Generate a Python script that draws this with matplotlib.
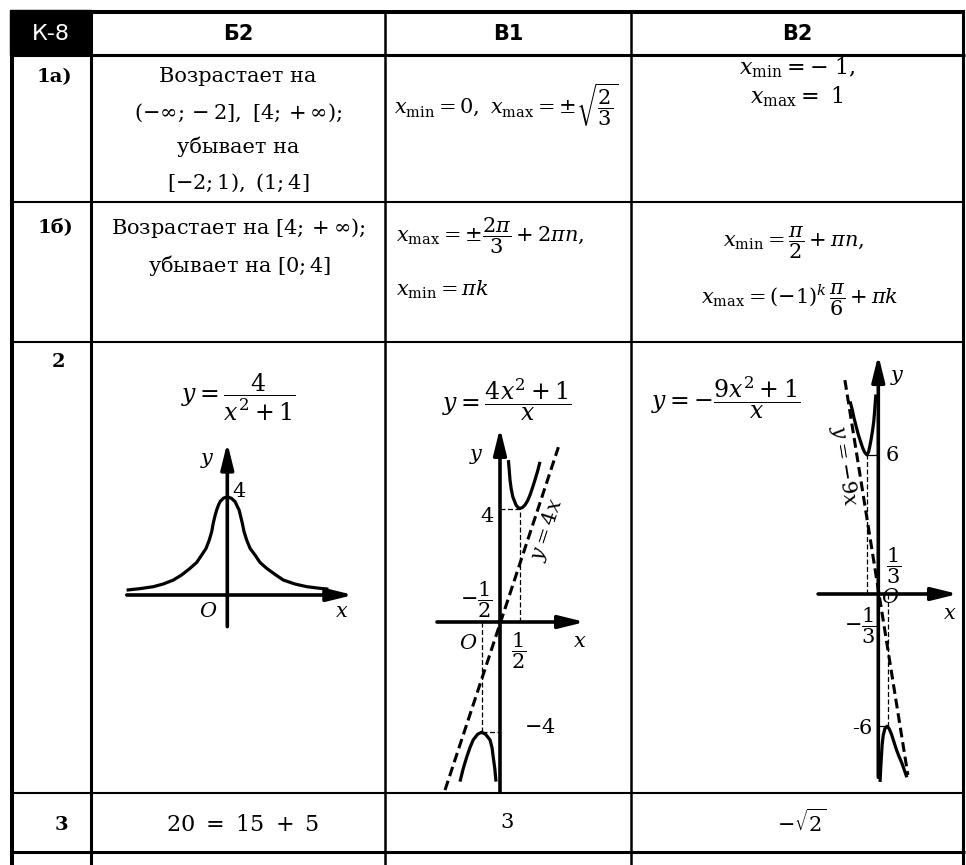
import matplotlib.pyplot as plt
from matplotlib.patches import Rectangle

W, H = 966, 865

plt.rcParams["font.family"] = "DejaVu Serif"
plt.rcParams["mathtext.fontset"] = "dejavuserif"

# ── table layout (pixels) ─────────────────────────────────────
COL_EDGES = [12, 91, 385, 631, 963]
ROW_EDGES = [12, 55, 202, 342, 793, 852]

HEADERS = ["К-8", "Б2", "В1", "В2"]
ROW_LABELS = ["1а)", "1б)", "2", "3"]

# ── graph 1 : y = 4/(x^2+1) ───────────────────────────────────
G1_X = [-5.30, -4.59, -3.89, -3.37, -2.84, -2.40, -1.96, -1.61, -1.35, -1.12, -0.95,
        -0.82, -0.74, -0.65, -0.56, -0.47, -0.38, -0.21, 0.0,
        0.21, 0.41, 0.50, 0.62, 0.70, 0.79, 0.88, 1.02, 1.20, 1.46, 1.72, 2.07,
        2.55, 2.95, 3.55, 4.18, 4.90, 5.32]
G1_Y = [0.20, 0.26, 0.34, 0.45, 0.61, 0.82, 1.09, 1.33, 1.63, 1.90, 2.24,
        2.59, 2.93, 3.22, 3.47, 3.66, 3.81, 3.95, 4.01,
        3.95, 3.81, 3.66, 3.47, 3.22, 2.93, 2.59, 2.24, 1.90, 1.63, 1.33, 1.09,
        0.82, 0.61, 0.45, 0.34, 0.27, 0.24]

# ── graph 2 : y = (4x^2+1)/x ──────────────────────────────────
G2_UP_X = [0.21, 0.23, 0.25, 0.28, 0.32, 0.40, 0.45, 0.50, 0.56, 0.625, 0.69,
           0.75, 0.81, 0.875, 0.94, 1.0]
G2_UP_Y = [5.74, 5.40, 5.04, 4.72, 4.44, 4.15, 4.06, 4.03, 4.06, 4.15, 4.30,
           4.50, 4.75, 5.04, 5.35, 5.68]
G2_LO_X = [-1.0, -0.92, -0.83, -0.75, -0.67, -0.56, -0.46, -0.36, -0.25, -0.2,
           -0.17, -0.13, -0.1]
G2_LO_Y = [-5.66, -5.20, -4.78, -4.45, -4.18, -3.98, -3.91, -3.98, -4.18, -4.45,
           -4.78, -5.20, -5.66]
G2_ASYM_X = [-1.375, 1.46]
G2_ASYM_Y = [-5.96, 6.2]

# ── graph 3 : y = -(9x^2+1)/x ─────────────────────────────────
G3_UP_X = [-0.81, -0.75, -0.70, -0.64, -0.58, -0.51, -0.45, -0.39, -0.33, -0.28,
           -0.24, -0.20, -0.16, -0.13, -0.11, -0.09, -0.07]
G3_UP_Y = [8.3, 7.95, 7.6, 7.25, 6.9, 6.57, 6.3, 6.1, 6.0, 6.12, 6.4, 6.72,
           7.1, 7.45, 7.8, 8.2, 8.6]
G3_LO_X = [0.05, 0.07, 0.09, 0.11, 0.14, 0.19, 0.25, 0.31, 0.38, 0.45, 0.53,
           0.60, 0.68, 0.75, 0.82]
G3_LO_Y = [-8.1, -7.5, -7.0, -6.5, -6.1, -5.8, -5.7, -5.8, -6.05, -6.38, -6.75,
           -7.02, -7.3, -7.6, -7.9]
G3_ASYM_X = [-0.96, 0.85]
G3_ASYM_Y = [9.22, -7.8]


def graph_axes(fig, box, origin, scale):
    """Inset axes whose data units land on the pixel box of the picture."""
    bx0, by0, bx1, by1 = box
    ox, oy = origin
    sx, sy = scale
    ax = fig.add_axes([bx0 / W, 1 - by1 / H, (bx1 - bx0) / W, (by1 - by0) / H])
    ax.set_xlim((bx0 - ox) / sx, (bx1 - ox) / sx)
    ax.set_ylim((oy - by1) / sy, (oy - by0) / sy)
    ax.axis("off")
    return ax


def arrows(ax, xr, yr):
    style = dict(arrowstyle="-|>,head_length=1.3,head_width=0.32",
                 lw=2.6, color="black", shrinkA=0, shrinkB=0, mutation_scale=12)
    ax.annotate("", xy=(xr[1], 0), xytext=(xr[0], 0), arrowprops=style)
    ax.annotate("", xy=(0, yr[1]), xytext=(0, yr[0]), arrowprops=style)


CURVE = dict(color="black", lw=2.3, solid_capstyle="butt", solid_joinstyle="round")
ASYM = dict(color="black", lw=2.2, linestyle=(0, (3.2, 1.6)))
GUIDE = dict(color="black", lw=0.9, linestyle=(0, (4, 2)))
LAB = dict(fontsize=15, ha="center", va="center")

fig = plt.figure(figsize=(W / 100, H / 100), dpi=100)
ax = fig.add_axes([0, 0, 1, 1])
ax.set_xlim(0, W)
ax.set_ylim(H, 0)
ax.axis("off")

# ── table grid ────────────────────────────────────────────────
ax.add_patch(Rectangle((10, 10), 81, 45, color="black"))
ax.hlines(ROW_EDGES[0], 10, 965, color="black", lw=2.9)
ax.hlines(ROW_EDGES[1], 10, 965, color="black", lw=2.2)
for y in ROW_EDGES[2:-1]:
    ax.hlines(y, 10, 965, color="black", lw=1.5)
ax.hlines(ROW_EDGES[-1], 10, 965, color="black", lw=2.2)
for x, lw in zip(COL_EDGES, [2.9, 2.2, 1.8, 1.8, 2.2]):
    ax.vlines(x, 10, H, color="black", lw=lw)

# ── headers ───────────────────────────────────────────────────
hy = (ROW_EDGES[0] + ROW_EDGES[1]) / 2 + 1
ax.text(51, hy, HEADERS[0], color="white", fontsize=16, family="DejaVu Sans",
        ha="center", va="center")
for cx, s in zip([238, 508, 797], HEADERS[1:]):
    ax.text(cx, hy, s, fontsize=15, family="DejaVu Sans", weight="bold",
            ha="center", va="center")

for (lx, ly), s in zip([(54, 77), (55, 227), (58, 362), (61, 825)], ROW_LABELS):
    ax.text(lx, ly, s, fontsize=14, weight="bold", ha="center", va="center")

FS = 15
# row 1a
for y, s in zip([76, 113, 147, 183],
                ["Возрастает на", r"$(-\infty;-2],\ [4;+\infty);$",
                 "убывает на", r"$[-2;1),\ (1;4]$"]):
    ax.text(238, y, s, fontsize=FS, ha="center", va="center")
ax.text(506, 104, r"$x_{\min}=0,\ x_{\max}=\pm\sqrt{\dfrac{2}{3}}$",
        fontsize=FS, ha="center", va="center")
ax.text(797, 68, r"$x_{\min}=-\ 1,$", fontsize=FS + 1, ha="center", va="center")
ax.text(797, 97, r"$x_{\max}=\ 1$", fontsize=FS + 1, ha="center", va="center")

# row 1b
ax.text(238, 228, r"Возрастает на $[4;+\infty)$;", fontsize=FS, ha="center", va="center")
ax.text(240, 265, r"убывает на $[0;4]$", fontsize=FS, ha="center", va="center")
ax.text(396, 236, r"$x_{\max}=\pm\dfrac{2\pi}{3}+2\pi n,$", fontsize=FS,
        ha="left", va="center")
ax.text(396, 290, r"$x_{\min}=\pi k$", fontsize=FS, ha="left", va="center")
ax.text(794, 243, r"$x_{\min}=\dfrac{\pi}{2}+\pi n,$", fontsize=FS,
        ha="center", va="center")
ax.text(800, 300, r"$x_{\max}=(-1)^k\,\dfrac{\pi}{6}+\pi k$", fontsize=FS,
        ha="center", va="center")

# row 2 formulas
ax.text(238, 397, r"$y=\dfrac{4}{x^2+1}$", fontsize=17, ha="center", va="center")
ax.text(507, 400, r"$y=\dfrac{4x^2+1}{x}$", fontsize=17, ha="center", va="center")
ax.text(726, 398, r"$y=-\dfrac{9x^2+1}{x}$", fontsize=17, ha="center", va="center")

# row 3
ax.text(243, 825, r"$20\ =\ 15\ +\ 5$", fontsize=16, ha="center", va="center")
ax.text(507, 822, r"$3$", fontsize=FS, ha="center", va="center")
ax.text(802, 822, r"$-\sqrt{2}$", fontsize=FS, ha="center", va="center")

# ── graph 1 ───────────────────────────────────────────────────
g1 = graph_axes(fig, (110, 420, 370, 640), (227.3, 595), (19.0, 24.5))
arrows(g1, (-5.29, 6.63), (-1.29, 6.22))
g1.plot(G1_X, G1_Y, **CURVE)
g1.text(-1.05, 5.51, r"$y$", **LAB)
g1.text(0.6, 4.22, r"$4$", **LAB)
g1.text(-0.98, -0.68, r"$O$", **LAB)
g1.text(6.0, -0.68, r"$x$", **LAB)

# ── graph 2 ───────────────────────────────────────────────────
g2 = graph_axes(fig, (430, 420, 600, 800), (500, 622), (40.0, 28.2))
arrows(g2, (-1.575, 2.125), (-6.03, 6.88))
g2.plot(G2_UP_X, G2_UP_Y, **CURVE)
g2.plot(G2_LO_X, G2_LO_Y, **CURVE)
g2.plot(G2_ASYM_X, G2_ASYM_Y, **ASYM)
g2.plot([0, 0.5], [4.0, 4.0], **GUIDE)
g2.plot([0.5, 0.5], [0, 4.0], **GUIDE)
g2.plot([-0.46, -0.46], [0, -3.91], **GUIDE)
g2.plot([-0.46, 0], [-3.91, -3.91], **GUIDE)
g2.text(-0.58, 5.86, r"$y$", **LAB)
g2.text(-0.33, 3.73, r"$4$", **LAB)
g2.text(-0.6, 0.78, r"$-\dfrac{1}{2}$", fontsize=15, ha="center", va="center")
g2.text(-0.79, -0.76, r"$O$", **LAB)
g2.text(0.46, -1.02, r"$\dfrac{1}{2}$", fontsize=15, ha="center", va="center")
g2.text(2.0, -0.70, r"$x$", **LAB)
g2.text(1.0, -3.75, r"$-4$", **LAB)
g2.text(1.17, 3.26, r"$y=4x$", fontsize=15, rotation=72, ha="center", va="center")

# ── graph 3 ───────────────────────────────────────────────────
g3 = graph_axes(fig, (810, 340, 966, 790), (878.3, 594), (34.8, 23.2))
arrows(g3, (-1.73, 2.29), (-7.9, 10.3))
g3.plot(G3_UP_X, G3_UP_Y, **CURVE)
g3.plot(G3_LO_X, G3_LO_Y, **CURVE)
g3.plot(G3_ASYM_X, G3_ASYM_Y, **ASYM)
g3.plot([-1 / 3, -1 / 3], [0, 6], **GUIDE)
g3.plot([-1 / 3, 0], [6, 6], color="black", lw=0.9)
g3.plot([0.27, 0.27], [0, -5.7], **GUIDE)
g3.plot([0, 0.25], [-5.7, -5.7], color="black", lw=0.9)
g3.text(0.56, 9.35, r"$y$", **LAB)
g3.text(0.38, 5.99, r"$6$", **LAB)
g3.text(0.44, 1.2, r"$\dfrac{1}{3}$", fontsize=15, ha="center", va="center")
g3.text(0.34, -0.17, r"$O$", **LAB)
g3.text(2.06, -0.82, r"$x$", **LAB)
g3.text(-0.52, -1.35, r"$-\dfrac{1}{3}$", fontsize=15, ha="center", va="center")
g3.text(-0.47, -5.78, "-6", **LAB)
g3.text(-1.0, 5.52, r"$y=-9x$", fontsize=15, rotation=-81, ha="center", va="center")

fig.savefig("out.png", dpi=100, facecolor="white")
